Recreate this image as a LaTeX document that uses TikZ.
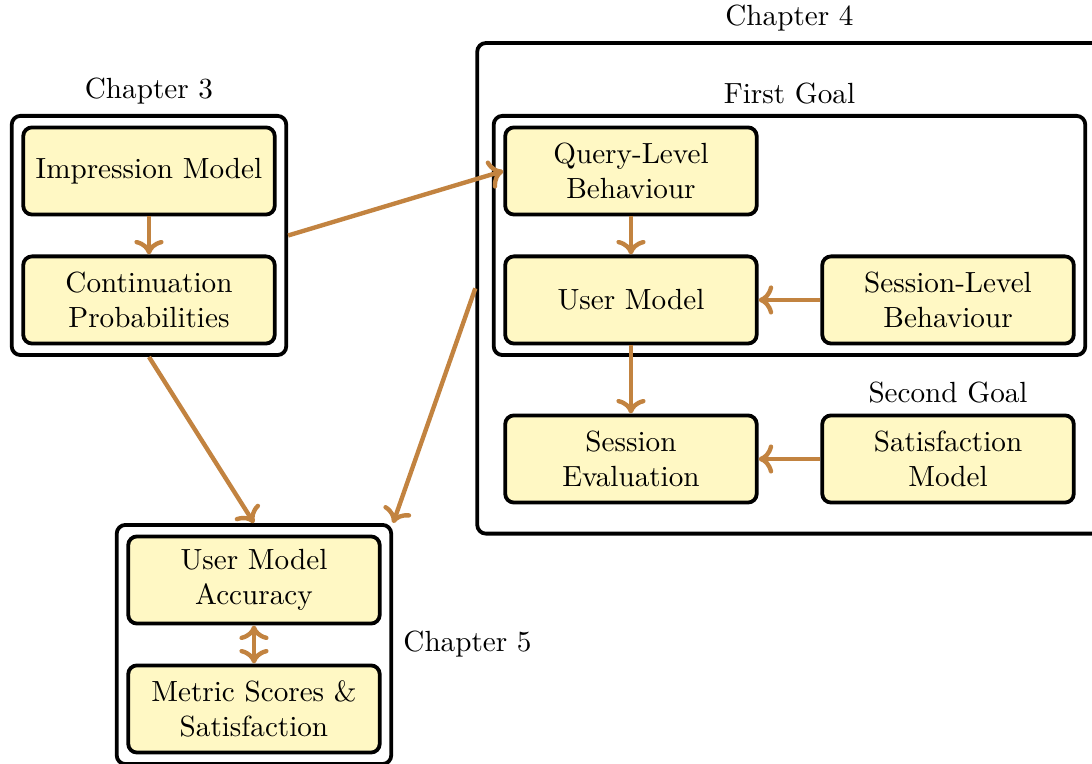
\documentclass[tikz,border=0pt]{standalone}
\usetikzlibrary{fit,arrows.meta}
\definecolor{boxyellow}{RGB}{255,248,196}
\definecolor{linkbrown}{RGB}{194,131,64}
\begin{document}
\begin{tikzpicture}[
  blk/.style={rectangle,rounded corners=3pt,draw,line width=1.3pt,fill=boxyellow,minimum width=3.03cm,minimum height=1.05cm,align=center,inner sep=2pt},
  grp/.style={rectangle,rounded corners=3pt,draw,line width=1.3pt,inner sep=3.3pt},
  lnk/.style={line width=1.5pt,linkbrown},
  >={Computer Modern Rightarrow[length=5pt,width=10pt]}]
\useasboundingbox (0,0) rectangle (13.157,-9.193);
% chapter 3
\node[blk] (imp) at (1.795,-2.06) {Impression Model};
\node[blk] (cont) at (1.795,-3.614) {Continuation\\Probabilities};
\node[grp,fit=(imp)(cont),label=above:Chapter 3] (ch3) {};
% chapter 4, first goal
\node[blk] (qlb) at (7.602,-2.06) {Query-Level\\Behaviour};
\node[blk] (um) at (7.602,-3.614) {User Model};
\node[blk] (slb) at (11.422,-3.614) {Session-Level\\Behaviour};
\node[grp,fit=(qlb)(um)(slb),label={[name=g1lab]above:First Goal}] (goal1) {};
% second goal
\node[blk] (seval) at (7.602,-5.53) {Session\\Evaluation};
\node[blk,label=above:Second Goal] (satm) at (11.422,-5.53) {Satisfaction\\Model};
\node[grp,fit=(goal1)(g1lab)(seval)(satm),inner xsep=5pt,inner ysep=10pt,label=above:Chapter 4] (ch4) {};
% chapter 5
\node[blk] (uma) at (3.06,-6.988) {User Model\\Accuracy};
\node[blk] (msat) at (3.06,-8.542) {Metric Scores \&\\Satisfaction};
\node[grp,fit=(uma)(msat),label=right:Chapter 5] (ch5) {};
% links
\draw[lnk,->] (imp) -- (cont);
\draw[lnk,->] (qlb) -- (um);
\draw[lnk,->] (slb) -- (um);
\draw[lnk,->] (um) -- (seval);
\draw[lnk,->] (satm) -- (seval);
\draw[lnk,<->] (uma) -- (msat);
\draw[lnk,->] (ch3.east) -- (qlb.west);
\draw[lnk,->] (ch3.south) -- (ch5.north);
\draw[lnk,->] (ch4.west) -- (ch5.north east);
\end{tikzpicture}
\end{document}
